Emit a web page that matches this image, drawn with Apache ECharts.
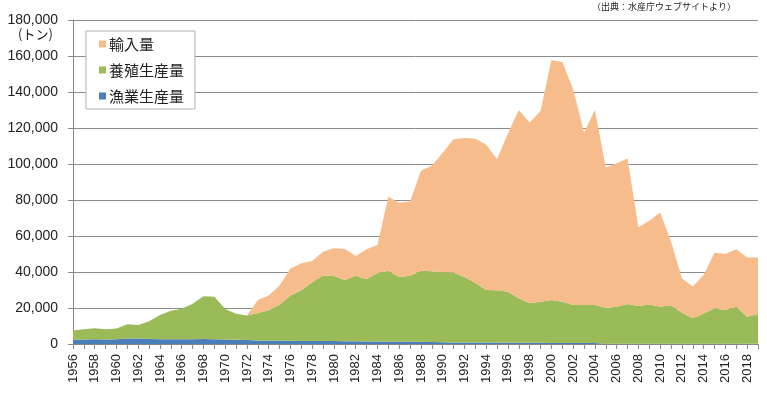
<!DOCTYPE html>
<html>
<head>
<meta charset="utf-8">
<script src="https://cdn.jsdelivr.net/npm/echarts@6/dist/echarts.min.js"></script>
<style>
html,body{margin:0;padding:0;background:#fff;}
#chart{width:767px;height:393px;}
</style>
</head>
<body>
<div id="chart"></div>
<script>
// Years 1956 - 2019
const years = [];
for (let y = 1956; y <= 2019; y++) years.push(String(y));

// 漁業生産量 (t)
const fishing = [
  2300,2500,2600,2500,2600,3100,3000,2800,2700,2700,
  2700,2700,2800,2700,2500,2300,2200,1900,1800,1900,
  1800,1700,1700,1600,1600,1500,1500,1400,1400,1300,
  1300,1200,1200,1100,1000,900,900,800,800,800,
  700,700,700,700,600,600,600,500,500,200,
  200,200,200,100,100,100,100,100,100,100,
  100,100,100,100
];
// 養殖生産量 (t)
const aquaculture = [
  5200,5700,6200,5700,6000,7900,7500,9900,13400,15800,
  16900,19700,23700,23500,16900,14500,13700,15300,16900,19900,
  25200,28100,32600,36400,36200,34100,36400,34600,38000,39400,
  35900,36700,39500,39300,38800,38800,36300,33200,29200,29000,
  28300,24700,21900,22800,23800,22900,21100,21200,21200,20000,
  20500,22000,20900,21900,20600,21400,17300,14200,16900,19700,
  18800,20600,15100,16600
];
// 輸入量 (t)
const imports = [
  0,0,0,0,0,0,0,0,0,0,
  0,0,0,0,0,0,0,7200,8300,10700,
  15000,15000,11800,13300,15400,17200,11000,16600,15600,41100,
  41300,41300,55500,58600,66500,74000,77200,80000,80900,72800,
  88000,104600,100400,106000,133400,133200,119800,95700,108300,77800,
  79700,80800,43700,46500,52300,35400,19100,17600,21300,30900,
  31100,31900,32800,31300
];

const seriesNames = ['漁業生産量', '養殖生産量', '輸入量'];
const legendOrder = ['輸入量', '養殖生産量', '漁業生産量'];
const colors = ['#4A7EBB', '#9BBB59', '#F7BC8B'];
const yTicks = { min: 0, max: 180000, interval: 20000 };
const unitLabel = '(トン)';
const sourceLabel = '（出典：水産庁ウェブサイトより）';

const chart = echarts.init(document.getElementById('chart'));
const dataSets = [fishing, aquaculture, imports];
const jp = '"Noto Sans CJK JP", sans-serif';

chart.setOption({
  animation: false,
  backgroundColor: '#ffffff',
  color: colors,
  grid: { left: 73, right: 9, top: 20, bottom: 49, containLabel: false },
  legend: {
    data: legendOrder,
    orient: 'vertical',
    left: 86,
    top: 31,
    padding: [4, 11, 4, 13],
    itemWidth: 7,
    itemHeight: 7,
    itemGap: 8,
    borderColor: '#b0b0b0',
    borderWidth: 1,
    backgroundColor: '#ffffff',
    icon: 'rect',
    textStyle: { fontFamily: jp, fontSize: 15, color: '#222', lineHeight: 18, padding: [0,0,0,-2] }
  },
  xAxis: {
    type: 'category',
    data: years,
    boundaryGap: false,
    axisLine: { lineStyle: { color: '#888', width: 1 } },
    axisTick: { show: true, interval: 0, length: 5, lineStyle: { color: '#888' } },
    axisLabel: {
      interval: 1,
      rotate: 90,
      margin: 10,
      fontFamily: 'Liberation Sans, Arial, sans-serif',
      fontSize: 13,
      color: '#222'
    },
    splitLine: { show: false }
  },
  yAxis: {
    type: 'value',
    min: yTicks.min,
    max: yTicks.max,
    interval: yTicks.interval,
    axisLine: { show: true, lineStyle: { color: '#888', width: 1 } },
    axisTick: { show: true, length: 5, lineStyle: { color: '#888' } },
    axisLabel: {
      margin: 15,
      fontFamily: 'Liberation Sans, Arial, sans-serif',
      fontSize: 14,
      color: '#222'
    },
    splitLine: { show: true, lineStyle: { color: '#8c8c8c', width: 1 } }
  },
  graphic: [
    {
      type: 'text', left: 18, top: 28,
      style: { text: unitLabel, fontFamily: jp, fontSize: 13, fill: '#222' }
    },
    {
      type: 'text', left: 592, top: 2,
      style: { text: sourceLabel, fontFamily: jp, fontSize: 9, fill: '#222' }
    }
  ],
  series: seriesNames.map((name, i) => ({
    name,
    type: 'line',
    stack: 'total',
    data: dataSets[i],
    symbol: 'none',
    smooth: false,
    lineStyle: { width: 0 },
    areaStyle: { color: colors[i], opacity: 1 },
    itemStyle: { color: colors[i] },
    z: 2
  }))
});
</script>
</body>
</html>
